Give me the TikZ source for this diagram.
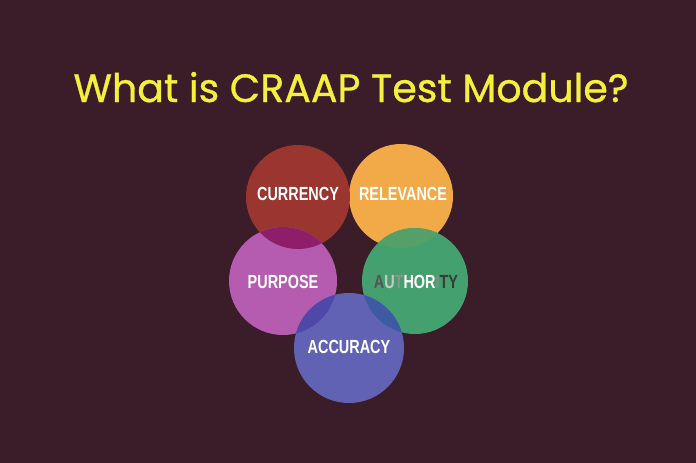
\documentclass[tikz,border=0pt]{standalone}
\usepackage{fontspec}
\setmainfont{Liberation Sans}
\newfontfamily\titlefont[FakeBold=0.8]{Poppins}
\usetikzlibrary{calc}
\definecolor{bg}{HTML}{3B1C29}
\definecolor{ttl}{HTML}{F5F03C}
\definecolor{ccur}{HTML}{9A3530}
\definecolor{crel}{HTML}{F2AA48}
\definecolor{cpur}{HTML}{B55CB0}
\definecolor{caut}{HTML}{45A070}
\definecolor{cacc}{HTML}{6262B4}
\definecolor{ocp}{HTML}{8E1E6A}
\definecolor{ocr}{HTML}{A8301F}
\definecolor{ora}{HTML}{55A068}
\definecolor{opa}{HTML}{4E48A8}
\definecolor{oaa}{HTML}{3E5AA0}
\tikzset{
  lbl/.style={text=white, font=\bfseries\fontsize{19}{19}\selectfont, xscale=0.76, inner sep=0pt},
}
\begin{document}
\begin{tikzpicture}[x=1pt,y=-1pt]
\fill[bg] (0,0) rectangle (696,463);
\useasboundingbox (0,0) rectangle (696,463);
\node[text=ttl, font=\titlefont\fontsize{39.5}{39.5}\selectfont, inner sep=0pt, anchor=base] (title) at (351,102) {What is CRAAP Test Module?};
% circles
\coordinate (cur) at (298,197);
\coordinate (rel) at (401,196);
\coordinate (pur) at (283,281);
\coordinate (aut) at (415,281);
\coordinate (acc) at (349,348);
\fill[ccur] (cur) circle (52);
\fill[crel] (rel) circle (52);
\fill[cpur] (pur) circle (54);
\fill[caut] (aut) circle (53);
\fill[cacc] (acc) circle (55);
% overlaps
\begin{scope}\clip (cur) circle (52); \fill[ocp] (pur) circle (54); \fill[ocr] (rel) circle (52); \end{scope}
\begin{scope}\clip (rel) circle (52); \fill[ora] (aut) circle (53); \end{scope}
\begin{scope}\clip (pur) circle (54); \fill[opa] (acc) circle (55); \end{scope}
\begin{scope}\clip (aut) circle (53); \fill[oaa] (acc) circle (55); \end{scope}
% labels
\node[lbl] (lcur) at (298,194) {CURRENCY};
\node[lbl] (lrel) at (403,194) {RELEVANCE};
\node[lbl] (lpur) at (283,282) {PURPOSE};
\node[lbl] (laut) at (416,282) {\textcolor[HTML]{555555}{A}\textcolor[HTML]{C8C8C8}{U}\textcolor[HTML]{909090}{T}HOR\textcolor[HTML]{8A8A8A}{I}\textcolor[HTML]{3A3A3A}{TY}};
\node[lbl] (lacc) at (349,347) {ACCURACY};
\end{tikzpicture}
\end{document}
